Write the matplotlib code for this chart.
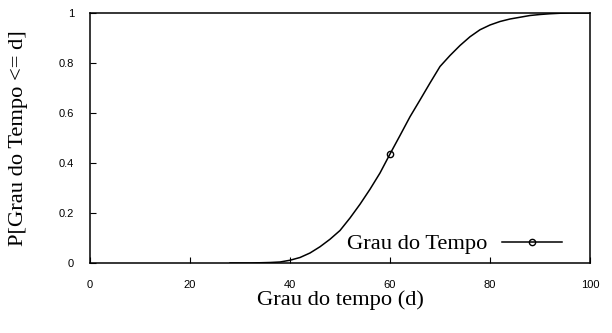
import matplotlib
matplotlib.use("Agg")
import matplotlib.pyplot as plt

x_days = [28, 30, 32, 34, 36, 38, 40, 42, 44, 46, 48, 50, 52, 54, 56, 58, 60,
          62, 64, 66, 68, 70, 72, 74, 76, 78, 80, 82, 84, 86, 88, 90, 92, 94,
          96, 98, 100]
cdf = [0.0, 0.0, 0.0, 0.001, 0.002, 0.004, 0.011, 0.022, 0.04, 0.065, 0.095,
       0.13, 0.18, 0.235, 0.295, 0.36, 0.436, 0.51, 0.585, 0.652, 0.72, 0.786,
       0.83, 0.87, 0.905, 0.933, 0.952, 0.966, 0.976, 0.983, 0.99, 0.994,
       0.997, 0.999, 1.0, 1.0, 1.0]
marker_x = [60]
series_label = "Grau do Tempo"
x_ticks = [0, 20, 40, 60, 80, 100]
y_ticks = [0, 0.2, 0.4, 0.6, 0.8, 1]
y_tick_labels = ["0", "0.2", "0.4", "0.6", "0.8", "1"]
xlabel = "Grau do tempo (d)"
ylabel = "P[Grau do Tempo <= d]"

W, H = 612, 333
fig = plt.figure(figsize=(W / 100, H / 100), dpi=100)
ax = fig.add_axes([90 / W, (H - 263) / H, 500 / W, 250 / H])

mark_idx = [x_days.index(m) for m in marker_x]
ax.plot(x_days, cdf, color="black", lw=1.1, marker="o", markevery=mark_idx,
        markersize=4.5, markerfacecolor="none", markeredgecolor="black",
        markeredgewidth=1.0, label=series_label)

ax.set_xlim(0, 100)
ax.set_ylim(0, 1)
ax.set_xticks(x_ticks)
ax.set_xticklabels([str(t) for t in x_ticks])
ax.set_yticks(y_ticks)
ax.set_yticklabels(y_tick_labels)

for lab in ax.get_xticklabels() + ax.get_yticklabels():
    lab.set_fontfamily("Liberation Sans")
    lab.set_fontsize(8)
ax.tick_params(direction="in", length=4, width=0.8, top=False, right=False)
ax.tick_params(axis="x", pad=12.5)
ax.tick_params(axis="y", pad=11.5)
for s in ax.spines.values():
    s.set_linewidth(1.1)

ax.set_xlabel(xlabel, family="Liberation Serif", fontsize=16.2, va="center")
ax.xaxis.set_label_coords((340 - 90) / 500, (263 - 300) / 250)
ax.set_ylabel(ylabel, family="Liberation Serif", fontsize=16.2, va="center")
ax.yaxis.set_label_coords((19 - 90) / 500, 0.5)

leg = ax.legend(loc="center right", markerfirst=False, frameon=False,
                prop={"family": "Liberation Serif", "size": 16.2},
                handlelength=2.67, handletextpad=0.65, borderaxespad=0,
                borderpad=0, numpoints=1,
                bbox_to_anchor=(562 / W, 1 - 244 / H),
                bbox_transform=fig.transFigure)

fig.savefig("out.png", dpi=100)
